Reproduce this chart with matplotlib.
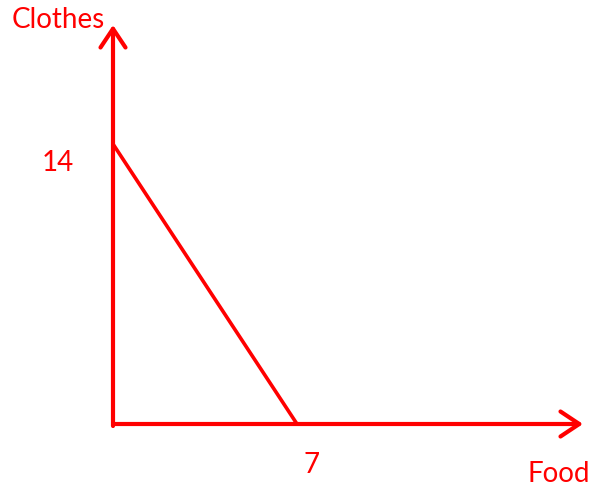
import matplotlib
matplotlib.use('Agg')
import matplotlib.pyplot as plt

# budget line: all food or all clothes
food = [0, 7]
clothes = [14, 0]
x_label = 'Food'
y_label = 'Clothes'
tick_food = '7'
tick_clothes = '14'

red = '#ff0000'
plt.rcParams['font.family'] = ['Lato', 'DejaVu Sans']

fig = plt.figure(figsize=(5.93, 4.90), dpi=100)
ax = fig.add_axes([0, 0, 1, 1])
ax.axis('off')
ax.set_xlim(-4.299, 18.261)
ax.set_ylim(-3.3, 21.2)

arrow = dict(arrowstyle='->,head_length=0.45,head_width=0.3', color=red, lw=3.0,
             shrinkA=0, shrinkB=0, mutation_scale=30, capstyle='round')
ax.annotate('', xy=(17.88, 0), xytext=(0, 0), arrowprops=arrow)
ax.annotate('', xy=(0, 19.95), xytext=(0, -0.1), arrowprops=arrow)

ax.plot(food, clothes, color=red, lw=2.6, solid_capstyle='butt')

ax.text(-2.07, 20.2, y_label, color=red, fontsize=20, ha='center', va='center')
ax.text(16.95, -2.5, x_label, color=red, fontsize=20, ha='center', va='center')
ax.text(-2.09, 13.05, tick_clothes, color=red, fontsize=20, ha='center', va='center')
ax.text(7.57, -2.05, tick_food, color=red, fontsize=20, ha='center', va='center')

fig.savefig('out.png', dpi=100)
